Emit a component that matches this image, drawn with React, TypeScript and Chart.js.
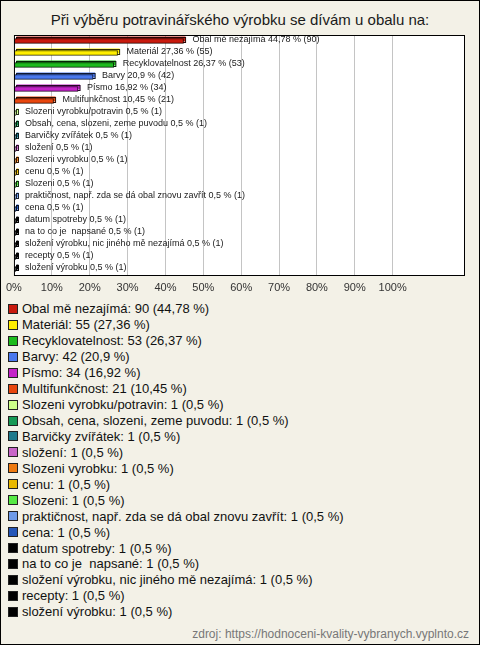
import React, { useEffect, useRef } from "react";
import { Chart, registerables } from "chart.js";

Chart.register(...registerables);

const TITLE = "Při výběru potravinářského výrobku se dívám u obalu na:";
const SOURCE = "zdroj: https://hodnoceni-kvality-vybranych.vyplnto.cz";

const categories = [
  "Obal mě nezajímá",
  "Materiál",
  "Recyklovatelnost",
  "Barvy",
  "Písmo",
  "Multifunkčnost",
  "Slozeni vyrobku/potravin",
  "Obsah, cena, slozeni, zeme puvodu",
  "Barvičky zvířátek",
  "složení",
  "Slozeni vyrobku",
  "cenu",
  "Slozeni",
  "praktičnost, např. zda se dá obal znovu zavřít",
  "cena",
  "datum spotreby",
  "na to co je  napsané",
  "složení výrobku, nic jiného mě nezajímá",
  "recepty",
  "složení výrobku",
];

const counts = [90, 55, 53, 42, 34, 21, 1, 1, 1, 1, 1, 1, 1, 1, 1, 1, 1, 1, 1, 1];
const percents = [
  44.78, 27.36, 26.37, 20.9, 16.92, 10.45, 0.5, 0.5, 0.5, 0.5, 0.5, 0.5, 0.5, 0.5,
  0.5, 0.5, 0.5, 0.5, 0.5, 0.5,
];

const colors = [
  "#c81a0e",
  "#ffee00",
  "#1cbb1c",
  "#4a78ee",
  "#c422c8",
  "#e8460e",
  "#ccff88",
  "#169955",
  "#1f7a8c",
  "#c866c8",
  "#ee7a10",
  "#e8b800",
  "#55e844",
  "#6e9ae8",
  "#2456b8",
  "#000000",
  "#000000",
  "#000000",
  "#000000",
  "#000000",
];

const xTickStep = 10;
const xTickLabelMax = 100;
const xMax = 118.85;

const fmt = (p: number) => String(p).replace(".", ",");

function darken(hex: string, f: number) {
  const n = parseInt(hex.slice(1), 16);
  const r = Math.round(((n >> 16) & 255) * f);
  const g = Math.round(((n >> 8) & 255) * f);
  const b = Math.round((n & 255) * f);
  return `rgb(${r},${g},${b})`;
}

const FONT = "'Liberation Sans', Arial, sans-serif";

export default function App() {
  const ref = useRef<HTMLCanvasElement | null>(null);

  useEffect(() => {
    if (!ref.current) return;

    const framePlugin = {
      id: "frame",
      beforeDraw(chart: any) {
        const { ctx, chartArea: a } = chart;
        ctx.save();
        ctx.fillStyle = "#ffffff";
        ctx.fillRect(a.left, a.top, a.right - a.left, a.bottom - a.top);
        ctx.restore();
      },
      afterDraw(chart: any) {
        const { ctx, chartArea: a } = chart;
        ctx.save();
        ctx.strokeStyle = "#000000";
        ctx.lineWidth = 1;
        ctx.strokeRect(a.left + 0.5, a.top + 0.5, a.right - a.left, a.bottom - a.top);
        ctx.restore();
      },
    };

    const depthPlugin = {
      id: "depth3d",
      beforeDatasetsDraw(chart: any) {
        const { ctx } = chart;
        const meta = chart.getDatasetMeta(0);
        ctx.save();
        meta.data.forEach((el: any, i: number) => {
          const { x, y, base, height } = el.getProps(["x", "y", "base", "height"], true);
          const left = Math.min(x, base);
          const w = Math.max(Math.abs(x - base), 2);
          const top = y - height / 2;
          ctx.fillStyle = colors[i];
          ctx.fillRect(left + 2, top - 2, w, height);
          ctx.strokeStyle = darken(colors[i], 0.2);
          ctx.lineWidth = 1;
          ctx.strokeRect(Math.round(left + 2) + 0.5, Math.round(top - 2) + 0.5, w, height);
        });
        ctx.restore();
      },
      afterDatasetsDraw(chart: any) {
        const { ctx } = chart;
        const meta = chart.getDatasetMeta(0);
        ctx.save();
        ctx.font = `9px ${FONT}`;
        ctx.fillStyle = "#1a1a1a";
        ctx.textAlign = "left";
        ctx.textBaseline = "middle";
        meta.data.forEach((el: any, i: number) => {
          const { x, y } = el.getProps(["x", "y"], true);
          ctx.fillText(
            `${categories[i]} ${fmt(percents[i])} % (${counts[i]})`,
            x + 9,
            y - 1
          );
        });
        ctx.restore();
      },
    };

    const chart = new Chart(ref.current, {
      type: "bar",
      data: {
        labels: categories,
        datasets: [
          {
            data: percents,
            backgroundColor: colors,
            borderColor: colors.map((c) => darken(c, 0.2)),
            borderWidth: 1,
            borderSkipped: false,
            barThickness: 5,
            minBarLength: 2,
          },
        ],
      },
      options: {
        indexAxis: "y",
        responsive: false,
        animation: false,
        devicePixelRatio: 1,
        layout: { padding: { top: 35, left: 10, right: 16, bottom: 0 } },
        plugins: {
          legend: { display: false },
          title: { display: false },
          tooltip: { enabled: false },
        },
        scales: {
          x: {
            type: "linear",
            position: "bottom",
            min: 0,
            max: xMax,
            ticks: {
              stepSize: xTickStep,
              padding: 6,
              color: "#333333",
              font: { family: FONT, size: 11 },
              maxRotation: 0,
              autoSkip: false,
              callback: (v: any) => (Number(v) <= xTickLabelMax ? `${v}%` : ""),
            },
            grid: {
              drawTicks: false,
              lineWidth: 1,
              color: (c: any) =>
                c.tick && (c.tick.value > xTickLabelMax || c.tick.value === 0)
                  ? "rgba(0,0,0,0)"
                  : "#c4c4c4",
            },
            border: { display: false },
            afterFit: (s: any) => {
              s.height = 25;
            },
          },
          y: {
            type: "category",
            display: false,
          },
        },
      },
      plugins: [framePlugin, depthPlugin],
    } as any);

    return () => chart.destroy();
  }, []);

  return (
    <div
      style={{
        position: "fixed",
        left: 0,
        top: 0,
        width: 480,
        height: 645,
        background: "#f3f1e7",
        boxShadow: "inset 0 0 0 1px #000",
        fontFamily: FONT,
        overflow: "hidden",
      }}
    >
      <div
        style={{
          position: "absolute",
          left: 0,
          top: 11,
          width: 480,
          textAlign: "center",
          fontSize: 15,
          lineHeight: "18px",
          color: "#1a1a1a",
        }}
      >
        {TITLE}
      </div>
      <canvas
        ref={ref}
        width={480}
        height={300}
        style={{ position: "absolute", left: 0, top: 0, width: 480, height: 300 }}
      />
      <div style={{ position: "absolute", left: 8, top: 301 }}>
        {categories.map((c, i) => (
          <div
            key={i}
            style={{
              height: 15.95,
              display: "flex",
              alignItems: "center",
              fontSize: 13,
              color: "#111",
              whiteSpace: "pre",
            }}
          >
            <span
              style={{
                display: "inline-block",
                width: 8,
                height: 8,
                border: "1px solid #222",
                background: colors[i],
                marginRight: 4,
              }}
            />
            {`${c}: ${counts[i]} (${fmt(percents[i])} %)`}
          </div>
        ))}
      </div>
      <div
        style={{
          position: "absolute",
          right: 11,
          top: 627,
          fontSize: 12,
          lineHeight: "14px",
          color: "#777",
        }}
      >
        {SOURCE}
      </div>
    </div>
  );
}
